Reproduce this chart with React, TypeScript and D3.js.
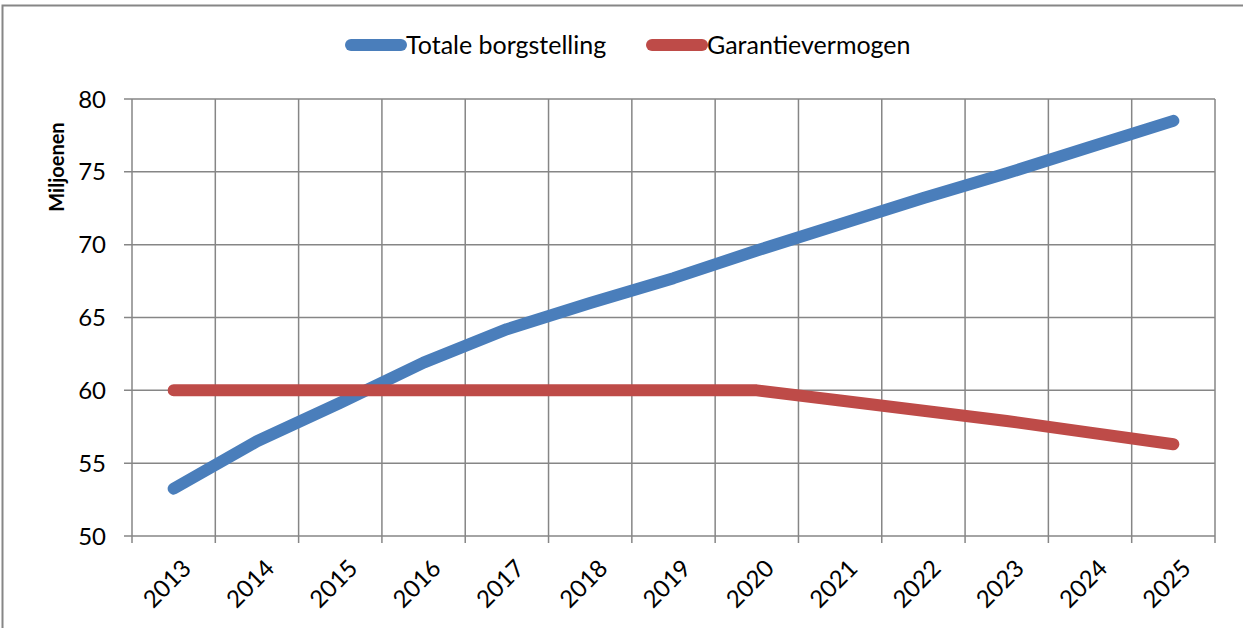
import React, { useEffect, useRef } from "react";
import * as d3 from "d3";

const jaren = ["2013", "2014", "2015", "2016", "2017", "2018", "2019", "2020", "2021", "2022", "2023", "2024", "2025"];
const borgstelling = [53.25, 56.5, 59.15, 61.9, 64.2, 66.0, 67.7, 69.6, 71.4, 73.2, 74.9, 76.7, 78.5];
const garantievermogen = [60, 60, 60, 60, 60, 60, 60, 60, 59.3, 58.6, 57.9, 57.1, 56.3];
const yTicks = [50, 55, 60, 65, 70, 75, 80];

const series = [
  { naam: "Totale borgstelling", waarden: borgstelling, kleur: "#4A7EBB" },
  { naam: "Garantievermogen", waarden: garantievermogen, kleur: "#BE4B48" },
];

const FONT = "Lato, 'Open Sans', sans-serif";
const GRID = "#868686";

export default function App() {
  const ref = useRef<SVGSVGElement>(null);

  useEffect(() => {
    document.body.style.margin = "0";
    const svg = d3.select(ref.current);
    svg.selectAll("*").remove();

    const width = 1243;
    const height = 628;
    const margin = { top: 99, left: 132, bottom: 92, right: 28 };
    const iheight = height - margin.top - margin.bottom;

    // kader rond de grafiek
    svg.append("rect")
      .attr("x", 2.5).attr("y", 5.5)
      .attr("width", width + 10).attr("height", height + 10)
      .attr("fill", "white").attr("stroke", GRID).attr("stroke-width", 2);

    const x = d3.scaleBand()
      .domain(jaren)
      .range([margin.left, width - margin.right])
      .padding(0);
    const y = d3.scaleLinear()
      .domain([50, 80])
      .range([margin.top + iheight, margin.top]);
    const cx = (d: string) => (x(d) as number) + x.bandwidth() / 2;

    const g = svg.append("g");

    // horizontale rasterlijnen + ticks
    g.selectAll(".hgrid").data(yTicks).enter().append("line")
      .attr("x1", margin.left - 8).attr("x2", width - margin.right)
      .attr("y1", d => y(d)).attr("y2", d => y(d))
      .attr("stroke", GRID).attr("stroke-width", 1.5);

    // verticale rasterlijnen op de grenzen van de categorieën
    const edges = jaren.map(d => x(d) as number).concat([width - margin.right]);
    g.selectAll(".vgrid").data(edges).enter().append("line")
      .attr("x1", d => d).attr("x2", d => d)
      .attr("y1", margin.top).attr("y2", margin.top + iheight + 7)
      .attr("stroke", GRID).attr("stroke-width", 1.5);

    // y labels
    g.selectAll(".ylab").data(yTicks).enter().append("text")
      .attr("x", 106).attr("y", d => y(d))
      .attr("dy", "0.36em")
      .attr("text-anchor", "end")
      .style("font-family", FONT).style("font-size", "24px")
      .attr("fill", "#000")
      .text(d => d);

    // x labels, schuin
    g.selectAll(".xlab").data(jaren).enter().append("text")
      .attr("transform", d => `translate(${cx(d) + 7},${margin.top + iheight + 22}) rotate(-45)`)
      .attr("text-anchor", "end")
      .attr("dy", "0.7em")
      .style("font-family", FONT).style("font-size", "24px")
      .attr("fill", "#000")
      .text(d => d);

    // as-titel
    svg.append("text")
      .attr("transform", `translate(64,167) rotate(-90)`)
      .attr("text-anchor", "middle")
      .style("font-family", FONT).style("font-size", "20px").style("font-weight", "bold")
      .text("Miljoenen");

    const line = d3.line<number>()
      .x((_, i) => cx(jaren[i]))
      .y(d => y(d));

    series.forEach(s => {
      g.append("path")
        .datum(s.waarden)
        .attr("d", line)
        .attr("fill", "none")
        .attr("stroke", s.kleur)
        .attr("stroke-width", 12)
        .attr("stroke-linecap", "round")
        .attr("stroke-linejoin", "round");
    });

    // legenda
    const legX = [351, 652];
    series.forEach((s, i) => {
      const lg = svg.append("g").attr("transform", `translate(${legX[i]},45)`);
      lg.append("line")
        .attr("x1", 0).attr("x2", 50)
        .attr("stroke", s.kleur).attr("stroke-width", 12)
        .attr("stroke-linecap", "round");
      lg.append("text")
        .attr("x", 55).attr("y", 9)
        .style("font-family", FONT).style("font-size", "25px")
        .text(s.naam);
    });
  }, []);

  return <svg ref={ref} width={1243} height={628} style={{ display: "block" }} />;
}
